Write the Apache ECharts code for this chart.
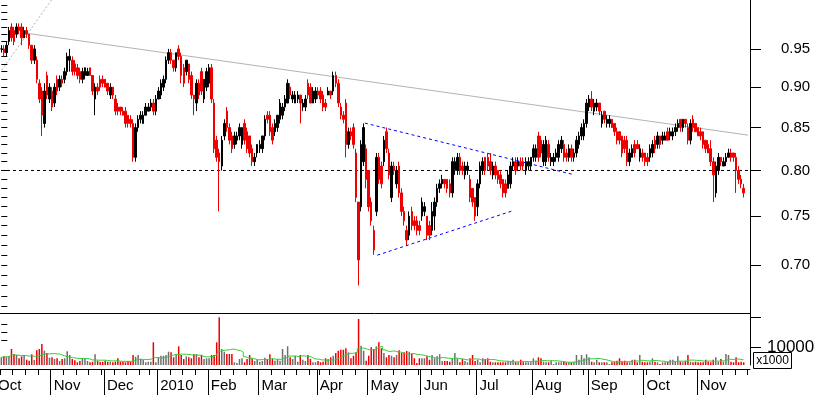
<!DOCTYPE html>
<html><head><meta charset="utf-8">
<script src="https://cdn.jsdelivr.net/npm/echarts@6/dist/echarts.min.js"></script>
<style>html,body{margin:0;padding:0;background:#fff}#c{width:817px;height:395px}</style>
</head><body><div id="c"></div>
<script>
// ---- trading calendar (categories) ----
const firstDay = '2009-10-05';
const lastDay = '2010-11-29';
const holidays = ['2009-12-25','2009-12-28','2010-01-01','2010-04-02','2010-04-05'];
const monthNames = ['2010','Feb','Mar','Apr','May','Jun','Jul','Aug','Sep','Oct','Nov','Dec'];

// ---- price data (one entry per trading day) ----
const opens = [
.950,.950,.945,.960,.980,.975,.970,.980,.980,.965,
.975,.970,.955,.935,.935,.905,.895,.855,.915,.885,
.895,.880,.910,.900,.910,.910,.920,.935,.935,.930,
.925,.920,.910,.915,.915,.925,.915,.885,.900,.910,
.910,.910,.905,.890,.900,.885,.875,.875,.870,.870,
.865,.860,.855,.815,.850,.860,.855,.865,.870,.875,
.880,.870,.885,.890,.900,.910,.935,.945,.935,.925,
.950,.940,.925,.920,.930,.915,.890,.880,.905,.920,
.885,.900,.905,.925,.880,.835,.820,.805,.840,.870,
.850,.840,.830,.835,.840,.830,.855,.845,.840,.825,
.810,.820,.825,.825,.840,.865,.865,.850,.845,.850,
.860,.865,.875,.880,.900,.885,.880,.885,.890,.875,
.875,.905,.900,.880,.885,.895,.895,.890,.880,.890,
.895,.895,.915,.905,.875,.865,.880,.830,.845,.850,
.820,.765,.760,.810,.825,.800,.765,.735,.755,.815,
.805,.810,.845,.820,.770,.805,.785,.805,.775,.755,
.735,.730,.755,.745,.745,.740,.750,.755,.750,.740,
.735,.750,.765,.780,.785,.790,.790,.785,.775,.800,
.800,.815,.805,.795,.800,.790,.780,.770,.760,.785,
.800,.815,.815,.810,.795,.805,.800,.795,.790,.785,
.780,.785,.805,.810,.805,.810,.810,.800,.805,.805,
.815,.815,.840,.835,.810,.810,.830,.810,.810,.815,
.815,.825,.830,.820,.815,.825,.815,.820,.830,.840,
.840,.855,.875,.885,.870,.875,.880,.855,.870,.855,
.855,.860,.855,.845,.845,.840,.835,.835,.810,.815,
.830,.830,.815,.820,.820,.815,.815,.820,.835,.830,
.840,.835,.835,.845,.840,.840,.845,.850,.860,.850,
.860,.850,.835,.860,.855,.850,.845,.845,.835,.830,
.825,.810,.775,.800,.815,.805,.810,.815,.820,.820,
.815,.800,.790,.780];
const highs = [
.955,.955,.960,.980,.985,.980,.985,.985,.985,.980,
.980,.970,.955,.955,.940,.910,.900,.905,.920,.905,
.900,.905,.915,.915,.915,.925,.945,.950,.940,.935,
.930,.925,.925,.925,.925,.925,.915,.905,.905,.915,
.915,.910,.905,.905,.900,.890,.880,.875,.875,.875,
.865,.865,.860,.855,.865,.870,.870,.880,.880,.885,
.885,.890,.900,.910,.915,.940,.950,.950,.935,.945,
.955,.945,.930,.935,.930,.920,.890,.910,.910,.925,
.910,.925,.930,.930,.885,.840,.825,.840,.860,.875,
.855,.845,.845,.845,.855,.850,.860,.850,.840,.830,
.820,.830,.835,.840,.865,.870,.870,.855,.860,.865,
.885,.880,.890,.910,.905,.895,.895,.895,.890,.885,
.890,.910,.905,.900,.900,.900,.900,.895,.885,.900,
.895,.920,.920,.910,.880,.870,.885,.850,.850,.855,
.825,.765,.835,.855,.830,.800,.770,.740,.820,.820,
.810,.840,.850,.825,.810,.810,.805,.810,.780,.760,
.740,.755,.760,.750,.750,.745,.770,.765,.750,.745,
.765,.770,.785,.790,.795,.790,.790,.790,.815,.815,
.820,.820,.810,.810,.810,.795,.780,.770,.790,.810,
.815,.815,.820,.820,.810,.810,.800,.800,.790,.790,
.800,.810,.815,.815,.815,.815,.815,.815,.815,.815,
.830,.830,.845,.840,.835,.840,.835,.820,.820,.825,
.835,.840,.835,.825,.830,.830,.825,.840,.845,.855,
.860,.885,.890,.895,.885,.885,.880,.870,.870,.865,
.865,.860,.855,.850,.845,.840,.840,.840,.825,.830,
.835,.835,.830,.825,.820,.820,.830,.835,.840,.845,
.840,.845,.845,.850,.850,.850,.855,.860,.860,.860,
.860,.855,.860,.865,.855,.850,.850,.845,.835,.835,
.835,.815,.810,.820,.815,.815,.820,.825,.825,.820,
.820,.805,.795,.785];
const lows = [
.945,.940,.940,.955,.960,.955,.965,.970,.955,.965,
.965,.950,.930,.930,.905,.880,.840,.850,.885,.880,
.870,.875,.890,.895,.900,.905,.915,.920,.915,.915,
.910,.905,.905,.910,.915,.915,.890,.865,.890,.895,
.900,.900,.890,.885,.885,.865,.865,.865,.865,.850,
.850,.850,.810,.810,.845,.855,.855,.865,.870,.870,
.865,.865,.885,.885,.895,.905,.930,.930,.920,.920,
.935,.905,.900,.915,.905,.885,.865,.870,.885,.890,
.880,.895,.900,.880,.820,.810,.755,.800,.835,.845,
.830,.820,.825,.830,.835,.825,.830,.820,.815,.805,
.805,.815,.820,.820,.835,.855,.840,.830,.840,.845,
.855,.860,.870,.880,.885,.880,.880,.880,.855,.870,
.870,.885,.880,.880,.880,.885,.880,.870,.870,.890,
.885,.890,.900,.875,.860,.855,.815,.825,.835,.825,
.765,.680,.755,.805,.780,.755,.740,.710,.750,.785,
.780,.805,.820,.790,.765,.795,.780,.770,.750,.740,
.720,.725,.735,.735,.730,.730,.745,.750,.725,.725,
.730,.735,.760,.775,.780,.780,.775,.770,.770,.795,
.795,.795,.795,.790,.795,.765,.760,.745,.750,.780,
.795,.795,.800,.795,.790,.790,.785,.780,.770,.770,
.780,.780,.800,.795,.800,.800,.800,.795,.800,.800,
.810,.810,.810,.815,.805,.805,.810,.805,.805,.810,
.810,.820,.810,.810,.810,.810,.810,.815,.825,.835,
.835,.850,.870,.870,.865,.870,.865,.850,.855,.850,
.850,.850,.840,.830,.830,.815,.820,.805,.805,.815,
.815,.825,.810,.810,.805,.805,.810,.815,.820,.825,
.825,.830,.835,.835,.835,.835,.840,.845,.845,.845,
.850,.830,.830,.845,.845,.840,.835,.825,.820,.820,
.805,.765,.770,.795,.805,.805,.805,.815,.810,.810,
.775,.785,.780,.770];
const closes = [
.950,.945,.955,.975,.965,.960,.980,.975,.965,.975,
.970,.955,.935,.950,.910,.885,.865,.895,.890,.900,
.875,.900,.895,.910,.905,.920,.940,.940,.920,.920,
.915,.910,.920,.925,.920,.915,.895,.900,.895,.900,
.905,.900,.895,.900,.890,.870,.870,.870,.865,.855,
.855,.855,.815,.850,.860,.865,.865,.875,.875,.880,
.870,.885,.895,.905,.910,.935,.945,.935,.925,.945,
.940,.915,.905,.935,.910,.890,.885,.905,.890,.895,
.910,.920,.925,.885,.825,.815,.810,.835,.855,.850,
.835,.825,.840,.840,.850,.850,.835,.825,.820,.810,
.815,.830,.830,.840,.860,.860,.845,.835,.855,.865,
.880,.875,.885,.905,.890,.890,.890,.890,.880,.880,
.885,.890,.880,.895,.895,.890,.885,.875,.875,.895,
.890,.915,.905,.880,.865,.860,.830,.845,.840,.830,
.770,.705,.830,.850,.790,.760,.745,.715,.815,.790,
.785,.835,.825,.795,.805,.800,.800,.775,.755,.745,
.725,.750,.740,.740,.735,.735,.765,.760,.730,.730,
.755,.765,.780,.785,.790,.785,.780,.775,.810,.810,
.815,.800,.800,.805,.805,.770,.765,.750,.785,.805,
.810,.800,.805,.800,.805,.795,.790,.785,.775,.775,
.795,.805,.810,.800,.810,.805,.805,.810,.810,.815,
.825,.825,.815,.820,.830,.835,.815,.815,.815,.820,
.830,.835,.815,.815,.825,.815,.820,.835,.840,.850,
.855,.880,.885,.875,.880,.880,.870,.865,.860,.860,
.860,.850,.845,.835,.835,.820,.825,.810,.820,.825,
.820,.825,.825,.815,.810,.810,.825,.830,.825,.840,
.830,.840,.840,.835,.845,.845,.850,.855,.850,.860,
.855,.835,.855,.850,.845,.840,.840,.830,.825,.820,
.810,.795,.805,.815,.810,.810,.815,.820,.815,.815,
.800,.790,.785,.775];
// volume, in thousands of shares
const volumes = [
6790,7110,6890,7210,9510,7870,7540,6460,7110,7540,
6000,5670,7770,5900,9080,9510,11150,8950,8200,6650,
6790,6230,6460,5570,6230,6460,8750,7540,6230,5800,
5150,5570,6460,6230,5570,5150,5340,7770,5670,5340,
5340,5670,5340,5340,5150,5340,6460,5340,5340,5150,
5570,5340,7540,6980,7540,6230,5900,5150,5340,5340,
11710,5150,6790,7310,7310,7540,8620,8430,6790,7770,
10390,7540,6230,7110,6790,6460,7770,7870,6790,7540,
6230,6460,6460,7540,7540,11710,19910,9510,8620,7870,
7870,7870,5150,4920,6230,6460,5150,6230,7540,6460,
5570,6000,5340,5570,6650,6230,7770,6230,5670,6230,
5670,9510,7540,10390,6790,6230,7310,5340,7540,6000,
5570,7540,6230,5150,5150,5570,5150,5340,6460,6230,
6790,7310,8200,8950,9280,9280,9740,8430,6460,7310,
8430,19350,10590,8950,5670,7310,10070,9510,10390,11710,
9740,8200,6790,7540,7310,6790,7540,9080,8200,8430,
8850,8620,7870,6460,4920,6460,6460,6460,7110,6000,
7540,6460,7110,7770,5570,5570,5570,5340,6230,8200,
6460,5150,6230,5570,5150,6460,7540,5570,6000,5150,
6460,6230,6460,5340,5150,5150,5150,5150,5150,5150,
5570,5340,6000,5150,5150,6000,5150,5150,5150,5150,
6460,5670,6790,6460,5340,5150,5150,5670,4590,5150,
5150,5150,5340,5150,5150,5150,5340,7540,6000,7540,
6460,7770,6790,5340,5150,6000,5150,5150,5150,5150,
4590,5150,5340,5670,6460,5340,5670,5150,5150,6000,
6000,5150,7540,5340,5150,5150,5340,6460,5340,5150,
4590,5150,5150,5340,6000,6000,5340,7110,5340,5150,
5570,7540,5340,5150,5340,5150,5150,5150,6000,5340,
5150,6000,6790,5340,6230,5340,7870,7540,5340,5150,
6790,5150,5340,5150];
const maPeriod = 10;

// ---- axis ticks / labels ----
const priceLabels = [0.70,0.75,0.80,0.85,0.90,0.95];
const priceMinorTicks = [0.66,0.67,0.68,0.69,0.70,0.71,0.72,0.73,0.74,0.75,0.76,0.77,0.78,0.79,0.80,0.81,0.82,0.83,0.84,0.85,0.86,0.87,0.88,0.89,0.90,0.91,0.92,0.93,0.94,0.95,0.96,0.97,0.98,0.99,1.00,1.01];
const priceAxisTop = 1.018, priceAxisBottom = 0.654;
const volMajorTicks = [10000,20000];
const volMinorTicks = [12500,15000,17500];
const volLabels = [10000];
const volAxisMin = 4262, volAxisMax = 21311;

// ---- drawn study lines: [trading-day index, price] ----
const supportLevel = 0.80;
const trendGray = [[9.4,0.9715],[294.7,0.841]];
const trendGrayDashed = [[0.17,0.922],[22.5,1.032]];
const triangleUpper = [[143.5,0.8554],[225.2,0.7958]];
const triangleLower = [[148.4,0.7097],[201.4,0.7553]];

// ---------------------------------------------------------------
const dates = [];
(function(){
  let t = Date.parse(firstDay + 'T00:00:00Z');
  const end = Date.parse(lastDay + 'T00:00:00Z');
  while (t <= end) {
    const d = new Date(t), wd = d.getUTCDay(), s = d.toISOString().slice(0,10);
    if (wd !== 0 && wd !== 6 && holidays.indexOf(s) < 0) dates.push(s);
    t += 86400000;
  }
})();
const xMin = -2.5, xMax = dates.length - 0.5;
const monthPos = [], labelByPos = {}, weekPos = [];
dates.forEach((s, i) => {
  const m = +s.slice(5,7);
  const prev = i > 0 ? dates[i-1] : null;
  if (!prev || +prev.slice(5,7) !== m) {
    const p = prev ? i - 0.5 : xMin;
    monthPos.push(p);
    labelByPos[p.toFixed(1)] = monthNames[m-1];
  }
  const wd = new Date(s + 'T00:00:00Z').getUTCDay();
  const pwd = prev ? new Date(prev + 'T00:00:00Z').getUTCDay() : 9;
  if (wd < pwd) weekPos.push(i - 0.5);
});

const L = Math.log;
const candleData = opens.map((o, i) => [i, L(o), L(closes[i]), L(lows[i]), L(highs[i])]);
const RED = '#ee0000', GREY = '#6e6e6e';
const volData = volumes.map((v, i) => {
  let up = closes[i] > opens[i] ? true : closes[i] < opens[i] ? false : (i > 0 ? closes[i] >= closes[i-1] : true);
  return {value: [i, v], itemStyle: {color: up ? GREY : RED}};
});
const maData = volumes.map((v, i) => {
  const from = Math.max(0, i - maPeriod + 1);
  let s = 0; for (let k = from; k <= i; k++) s += volumes[k];
  return [i, s / (i - from + 1)];
});
const toLn = arr => arr.map(p => [p[0], L(p[1])]);

const FONT = 'Liberation Sans';
const chart = echarts.init(document.getElementById('c'), null, {renderer: 'canvas'});
const noSplit = {show: false};
chart.setOption({
  animation: false,
  backgroundColor: '#fff',
  grid: [
    {left: -5, right: 67, top: 0, bottom: 82, containLabel: false, outerBoundsMode: 'none'},
    {left: -5, right: 67, top: 313, bottom: 30, containLabel: false, outerBoundsMode: 'none'}
  ],
  xAxis: [
    {type: 'value', gridIndex: 0, position: 'bottom', min: xMin, max: xMax, axisLine: {show: true, onZero: false, lineStyle: {color: '#000', width: 1}},
     axisTick: {show: false}, axisLabel: {show: false}, splitLine: noSplit},
    {type: 'value', gridIndex: 1, position: 'bottom', min: xMin, max: xMax, offset: 4,
     axisLine: {show: true, onZero: false, lineStyle: {color: '#000', width: 1}},
     axisTick: {show: true, length: 26, customValues: monthPos, lineStyle: {color: '#000'}},
     axisLabel: {show: true, customValues: monthPos, showMinLabel: true, formatter: v => labelByPos[(+v).toFixed(1)] || '',
       align: 'left', padding: [0,0,0,3], margin: 9, color: '#000', fontSize: 15, fontFamily: FONT},
     splitLine: noSplit},
    {type: 'value', gridIndex: 1, position: 'bottom', min: xMin, max: xMax, offset: 4,
     axisLine: {show: false, onZero: false}, axisTick: {show: true, length: 6, customValues: weekPos, lineStyle: {color: '#000'}},
     axisLabel: {show: false}, splitLine: noSplit}
  ],
  yAxis: [
    {type: 'value', gridIndex: 0, position: 'right', min: L(priceAxisBottom), max: L(priceAxisTop),
     axisLine: {show: true, onZero: false, lineStyle: {color: '#000', width: 1}},
     axisTick: {show: true, length: 11, customValues: priceLabels.map(L), lineStyle: {color: '#000'}},
     axisLabel: {show: true, customValues: priceLabels.map(L), formatter: v => Math.exp(v).toFixed(2),
       margin: 31, color: '#000', fontSize: 15, fontFamily: FONT},
     splitLine: noSplit},
    {type: 'value', gridIndex: 0, position: 'right', min: L(priceAxisBottom), max: L(priceAxisTop),
     axisLine: {show: false}, axisTick: {show: true, length: 6, customValues: priceMinorTicks.map(L), lineStyle: {color: '#000'}},
     axisLabel: {show: false}, splitLine: noSplit},
    {type: 'value', gridIndex: 1, position: 'right', min: volAxisMin, max: volAxisMax,
     axisLine: {show: true, onZero: false, lineStyle: {color: '#000', width: 1}},
     axisTick: {show: true, length: 11, customValues: volMajorTicks, lineStyle: {color: '#000'}},
     axisLabel: {show: true, customValues: volLabels, formatter: v => String(Math.round(v)),
       margin: 17, color: '#000', fontSize: 17, fontFamily: FONT},
     splitLine: noSplit},
    {type: 'value', gridIndex: 1, position: 'right', min: volAxisMin, max: volAxisMax,
     axisLine: {show: false}, axisTick: {show: true, length: 6, customValues: volMinorTicks, lineStyle: {color: '#000'}},
     axisLabel: {show: false}, splitLine: noSplit}
  ],
  series: [
    {type: 'line', xAxisIndex: 0, yAxisIndex: 0, data: [[xMin, L(supportLevel)], [xMax, L(supportLevel)]],
     symbol: 'none', lineStyle: {color: '#000', width: 1, type: [3,3]}, z: 1, silent: true},
    {type: 'line', xAxisIndex: 0, yAxisIndex: 0, data: toLn(trendGray), symbol: 'none',
     lineStyle: {color: '#b4b4b4', width: 1}, z: 1, silent: true},
    {type: 'line', xAxisIndex: 0, yAxisIndex: 0, data: toLn(trendGrayDashed), symbol: 'none',
     lineStyle: {color: '#b0b0b0', width: 1, type: [2,2]}, z: 1, silent: true},
    {type: 'line', xAxisIndex: 0, yAxisIndex: 0, data: toLn(triangleUpper), symbol: 'none',
     lineStyle: {color: '#0000ff', width: 1, type: [3,3]}, z: 1, silent: true},
    {type: 'line', xAxisIndex: 0, yAxisIndex: 0, data: toLn(triangleLower), symbol: 'none',
     lineStyle: {color: '#0000ff', width: 1, type: [3,3]}, z: 1, silent: true},
    {type: 'candlestick', xAxisIndex: 0, yAxisIndex: 0, data: candleData, barWidth: 2, z: 3,
     itemStyle: {color: '#000', color0: RED, borderColor: '#000', borderColor0: RED, borderWidth: 1}},
    {type: 'bar', xAxisIndex: 1, yAxisIndex: 2, data: volData, barWidth: 1.5, z: 2},
    {type: 'line', xAxisIndex: 1, yAxisIndex: 2, data: maData, symbol: 'none', step: 'middle',
     lineStyle: {color: '#33cc33', width: 1}, z: 3, silent: true}
  ],
  graphic: [
    {type: 'group', z: 100, children: [
      {type: 'rect', shape: {x: 753.5, y: 352.5, width: 38, height: 16}, style: {fill: '#fff', stroke: '#000', lineWidth: 1}},
      {type: 'text', style: {text: 'x1000', x: 772.5, y: 361, align: 'center', verticalAlign: 'middle',
        fontSize: 12, fontFamily: FONT, fill: '#000'}}
    ]}
  ]
});
</script></body></html>
